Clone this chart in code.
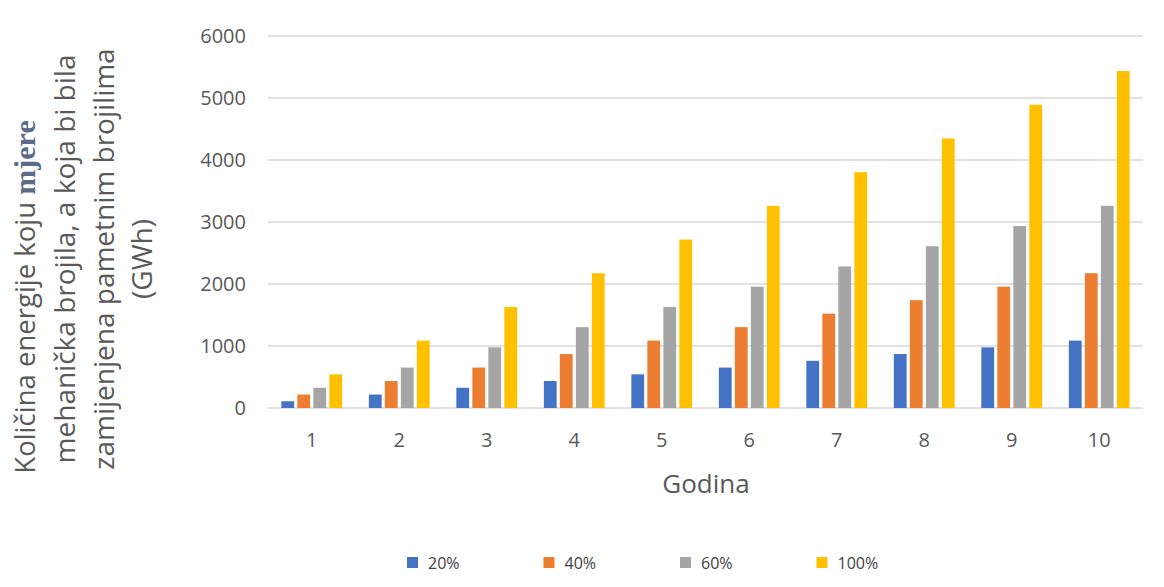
<!DOCTYPE html>
<html lang="hr">
  <head>
    <meta charset="UTF-8" />
    <title>Godina</title>
    <script src="https://d3js.org/d3.v7.min.js"></script>
    <style>
      body {
        margin: 0;
        background: #ffffff;
      }
      text {
        font-family: "Open Sans", "Noto Sans", sans-serif;
      }
      .grid line {
        stroke: #d9d9d9;
        stroke-width: 1.3px;
      }
    </style>
  </head>
  <body>
    <svg id="chart"></svg>
  </body>
  <script>
    const years = ["1", "2", "3", "4", "5", "6", "7", "8", "9", "10"];
    const seriesNames = ["20%", "40%", "60%", "100%"];
    const s20 = [109, 217, 326, 435, 543, 652, 761, 870, 978, 1087];
    const s40 = [217, 435, 652, 870, 1087, 1304, 1522, 1739, 1957, 2174];
    const s60 = [326, 652, 978, 1304, 1630, 1957, 2283, 2609, 2935, 3261];
    const s100 = [543, 1087, 1630, 2174, 2717, 3261, 3804, 4348, 4891, 5435];
    const yTicks = [0, 1000, 2000, 3000, 4000, 5000, 6000];
    const colors = ["#4472c4", "#ed7d31", "#a5a5a5", "#ffc000"];

    const allSeries = [s20, s40, s60, s100];
    const width = 1164;
    const height = 587;
    const margin = { left: 268, right: 21, top: 36, bottom: 179 };

    const svg = d3
      .select("#chart")
      .attr("width", width)
      .attr("height", height);

    const x0 = d3
      .scaleBand()
      .domain(years)
      .range([margin.left, width - margin.right])
      .paddingInner(0.305)
      .paddingOuter(0.1525);

    const x1 = d3
      .scaleBand()
      .domain(seriesNames)
      .range([0, x0.bandwidth()])
      .paddingInner(0.2);

    const y = d3
      .scaleLinear()
      .domain([0, 6000])
      .range([height - margin.bottom, margin.top]);

    // gridlines
    svg
      .append("g")
      .attr("class", "grid")
      .selectAll("line")
      .data(yTicks)
      .enter()
      .append("line")
      .attr("x1", margin.left)
      .attr("x2", width - margin.right)
      .attr("y1", (d) => y(d))
      .attr("y2", (d) => y(d));

    // y tick labels
    svg
      .append("g")
      .selectAll("text")
      .data(yTicks)
      .enter()
      .append("text")
      .attr("x", margin.left - 22)
      .attr("y", (d) => y(d))
      .attr("dy", "0.35em")
      .attr("text-anchor", "end")
      .attr("fill", "#595959")
      .style("font-size", "20px")
      .text((d) => d);

    // bars
    const groups = svg
      .append("g")
      .selectAll("g")
      .data(years)
      .enter()
      .append("g")
      .attr("transform", (d) => `translate(${x0(d)},0)`);

    groups
      .selectAll("rect")
      .data((d, i) => seriesNames.map((s, j) => ({ s, v: allSeries[j][i], c: colors[j] })))
      .enter()
      .append("rect")
      .attr("x", (d) => x1(d.s))
      .attr("width", x1.bandwidth())
      .attr("y", (d) => y(d.v))
      .attr("height", (d) => y(0) - y(d.v))
      .attr("fill", (d) => d.c);

    // x tick labels
    svg
      .append("g")
      .selectAll("text")
      .data(years)
      .enter()
      .append("text")
      .attr("x", (d) => x0(d) + x0.bandwidth() / 2)
      .attr("y", 440)
      .attr("dy", "0.35em")
      .attr("text-anchor", "middle")
      .attr("fill", "#595959")
      .style("font-size", "20px")
      .text((d) => d);

    // x axis title
    svg
      .append("text")
      .attr("x", 706)
      .attr("y", 484)
      .attr("dy", "0.35em")
      .attr("text-anchor", "middle")
      .attr("fill", "#595959")
      .style("font-size", "26px")
      .text("Godina");

    // y axis title (rotated, 4 lines)
    const line1 = svg
      .append("text")
      .attr("transform", "translate(35,297) rotate(-90)")
      .attr("text-anchor", "middle")
      .attr("fill", "#595959")
      .style("font-size", "27.5px");
    line1.append("tspan").text("Količina energije koju ");
    line1
      .append("tspan")
      .style("font-family", "'Liberation Serif', 'DejaVu Serif', serif")
      .style("font-size", "30px")
      .style("font-weight", "bold")
      .attr("fill", "#5a6c89")
      .text("mjere");

    const otherLines = [
      "mehanička brojila, a koja bi bila",
      "zamijenjena pametnim brojilima",
      "(GWh)",
    ];
    svg
      .append("g")
      .selectAll("text")
      .data(otherLines)
      .enter()
      .append("text")
      .attr("transform", (d, i) => `translate(${75 + i * 38.5},259) rotate(-90)`)
      .attr("text-anchor", "middle")
      .attr("fill", "#595959")
      .style("font-size", "28px")
      .text((d) => d);

    // legend
    const legend = svg
      .append("g")
      .selectAll("g")
      .data(seriesNames)
      .enter()
      .append("g")
      .attr("transform", (d, i) => `translate(${407 + i * 136.5},557)`);

    legend
      .append("rect")
      .attr("width", 11)
      .attr("height", 11)
      .attr("fill", (d, i) => colors[i]);

    legend
      .append("text")
      .attr("x", 21)
      .attr("y", 6)
      .attr("dy", "0.35em")
      .attr("fill", "#404040")
      .style("font-size", "16px")
      .text((d) => d);
  </script>
</html>
